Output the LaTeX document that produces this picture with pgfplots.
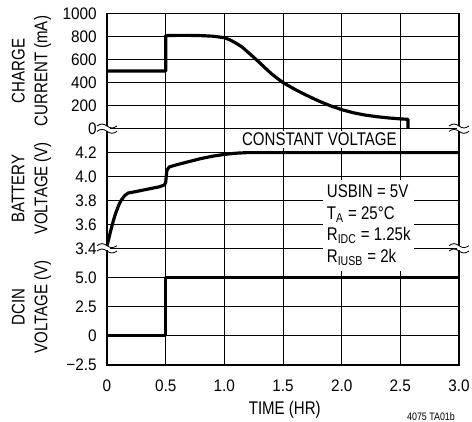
\documentclass[border=0pt]{standalone}
\usepackage{fontspec}
\setmainfont{Liberation Sans}[FakeStretch=0.82]
\newfontfamily\tickfont{Liberation Sans}[FakeStretch=0.92]
\usepackage{pgfplots}
\pgfplotsset{compat=1.18}

\pgfplotsset{
  panel/.style={
    scale only axis, width=211.2pt,
    xmin=0, xmax=3, xtick={0,0.5,1,1.5,2,2.5,3},
    grid=major, major grid style={line width=0.5pt, black},
    major tick length=0pt,
    axis line style={line width=0.5pt},
    /pgf/number format/assume math mode=true,
    ticklabel style={font=\tickfont\fontsize{10}{12}\selectfont},
    yticklabel style={xshift=-2.7pt},
    ylabel style={at={(axis description cs:-0.2145,0.5)}, anchor=center,
      align=center, font=\fontsize{11}{13.8}\selectfont},
  },
  curve/.style={black, mark=none, line width=1.9pt, line join=round},
}

\begin{document}
\begin{tikzpicture}
\useasboundingbox (-64.2pt,8.1pt) rectangle (219pt,-245.1pt);

% charge current
\begin{axis}[panel, name=top, at={(0,0)}, anchor=north west, height=69.1pt,
  ymin=0, ymax=1000, ytick={0,200,400,600,800,1000},
  yticklabels={0,200,400,600,800,1000}, xticklabels={},
  ylabel={CHARGE\\CURRENT (mA)}]
\addplot[curve] coordinates {
  (0,500) (0.5,500) (0.5,808) (0.6,810) (0.7,810) (0.8,808) (0.9,803)
  (1.0,790) (1.05,770) (1.1,742) (1.15,710) (1.2,665) (1.25,620) (1.3,573)
  (1.35,525) (1.4,478) (1.45,438) (1.5,400) (1.6,342) (1.7,290) (1.8,242)
  (1.9,200) (2.0,165) (2.1,138) (2.2,118) (2.3,104) (2.4,93) (2.5,85)
  (2.565,81) (2.565,0)
};
\end{axis}

% battery voltage
\begin{axis}[panel, name=mid, at={(top.south west)}, anchor=north west, height=71.8pt,
  ymin=3.4, ymax=4.4, ytick={3.4,3.6,3.8,4.0,4.2},
  yticklabels={3.4,3.6,3.8,4.0,4.2}, xticklabels={},
  ylabel={BATTERY\\VOLTAGE (V)}]
\addplot[curve] coordinates {
  (0,3.42) (0.02,3.50) (0.04,3.58) (0.06,3.65) (0.08,3.71) (0.10,3.76)
  (0.12,3.80) (0.15,3.84) (0.18,3.862) (0.25,3.875) (0.35,3.895)
  (0.45,3.915) (0.49,3.93) (0.5,3.95) (0.51,4.05) (0.53,4.08) (0.6,4.10)
  (0.7,4.125) (0.8,4.15) (0.9,4.17) (1.0,4.185) (1.1,4.195) (1.2,4.2)
  (3.0,4.2)
};
\node[fill=white, inner xsep=1.5pt, inner ysep=1pt,
  font=\fontsize{11}{13}\selectfont] at (axis cs:1.81,4.31) {CONSTANT VOLTAGE};
\coordinate (boxnw) at (axis cs:1.84,3.975);
\end{axis}

% dcin voltage
\begin{axis}[panel, name=bot, at={(mid.south west)}, anchor=north west, height=70pt,
  ymin=-2.5, ymax=7.5, ytick={-2.5,0,2.5,5},
  yticklabels={−2.5,0,2.5,5.0},
  xticklabels={0,0.5,1.0,1.5,2.0,2.5,3.0},
  xticklabel style={yshift=-5.3pt},
  xlabel={TIME (HR)},
  xlabel style={at={(axis description cs:0.505,0)}, anchor=center,
    yshift=-26.6pt, font=\fontsize{11}{13}\selectfont},
  ylabel={DCIN\\VOLTAGE (V)}]
\addplot[curve] coordinates {(0,0) (0.5,0) (0.5,5) (3.0,5)};
\end{axis}

% conditions box
\node[fill=white, anchor=north west, inner xsep=2.2pt, inner ysep=3pt,
  align=left, font=\fontsize{11}{13}\selectfont] at (boxnw)
  {USBIN = 5V\\T\textsubscript{A} = 25°C\\R\textsubscript{IDC} = 1.25k\\R\textsubscript{IUSB} = 2k};

% outer frame
\draw[line width=0.9pt] (top.north west) rectangle (bot.south east);

% axis breaks
\foreach \c in {top.south west, top.south east, mid.south west, mid.south east} {
  \fill[white] ([shift={(-1.5pt,-1.3pt)}]\c) rectangle ([shift={(1.5pt,1.3pt)}]\c);
  \draw[line width=0.5pt] ([shift={(-6pt,1.6pt)}]\c) sin ++(3pt,1.2pt) cos ++(3pt,-1.2pt)
    sin ++(3pt,-1.2pt) cos ++(3pt,1.2pt);
  \draw[line width=0.5pt] ([shift={(-6pt,-1.6pt)}]\c) sin ++(3pt,1.2pt) cos ++(3pt,-1.2pt)
    sin ++(3pt,-1.2pt) cos ++(3pt,1.2pt);
}

\node[anchor=south, font=\fontsize{6.5}{8}\selectfont, inner sep=0pt] at (194.4pt,-244.6pt) {4075 TA01b};
\end{tikzpicture}
\end{document}
